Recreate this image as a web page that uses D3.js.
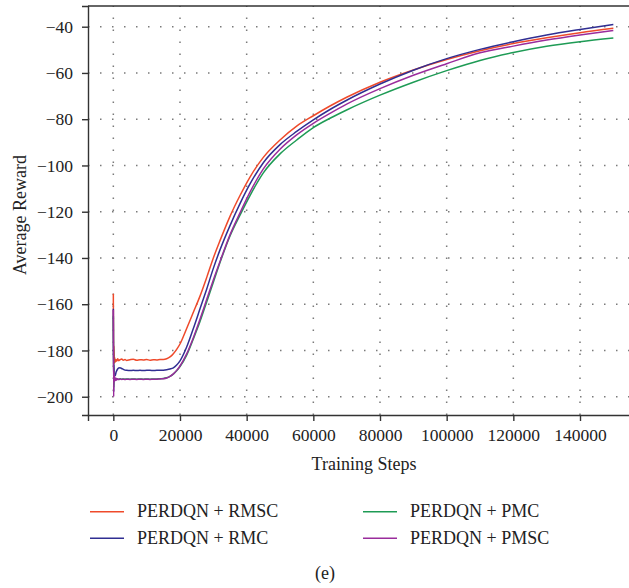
<!DOCTYPE html>
<html>
<head>
<meta charset="utf-8">
<script src="https://cdn.jsdelivr.net/npm/d3@7"></script>
<style>
  html, body { margin: 0; padding: 0; background: #fff; }
  svg { display: block; }
  text { font-family: "Liberation Serif", "DejaVu Serif", serif; fill: #222; }
</style>
</head>
<body>
<svg id="chart" width="629" height="588"></svg>
<script>
// ---------------- data ----------------
const steps = [0, 100, 200, 300, 400, 600, 800, 1000, 1300, 1600,
  2000, 2500, 3000, 3500, 4000, 5000, 6000, 7000, 8000, 9000,
  10000, 11000, 12000, 13000, 14000, 15000, 16000, 17000, 18000, 19000,
  20000, 22000, 24000, 26000, 28000, 30000, 32000, 35000, 38000, 41000,
  45000, 50000, 55000, 60000, 65000, 70000, 80000, 90000, 100000, 110000,
  120000, 130000, 140000, 150000];

const rmsc = [-155.5, -186, -178, -185.5, -183, -185, -184, -184.6, -183.6, -184.4,
  -184, -183.7, -184.2, -183.9, -184.3, -184, -183.8, -184.2, -184, -184.1,
  -183.9, -184.2, -184, -184.1, -183.9, -183.9, -183.6, -182.8, -181.4, -179.5,
  -177.2, -170.5, -163.5, -156.5, -148.5, -140, -132.5, -122, -113, -105,
  -96.5, -89, -83, -78.5, -74.3, -70.5, -64, -58.7, -54.2, -50.4,
  -47.3, -44.8, -42.6, -40.7];

const rmc = [-162, -198, -186, -191.5, -190, -190.8, -189.5, -188.8, -188, -187.6,
  -187.5, -187.8, -188.2, -188.5, -188.6, -188.7, -188.6, -188.7, -188.6, -188.7,
  -188.6, -188.6, -188.7, -188.6, -188.6, -188.5, -188.3, -188, -187.5, -186.3,
  -184.5, -178.5, -170.5, -162, -153.5, -144.5, -136.5, -126, -116.5, -108,
  -98.8, -91, -85.3, -80.3, -75.8, -71.8, -64.8, -58.8, -53.8, -49.8,
  -46.5, -43.6, -41.2, -39];

const pmc = [-165, -196, -190, -193, -192, -192.6, -192.2, -192.5, -192.3, -192.5,
  -192.2, -192.4, -192.3, -192.4, -192.3, -192.4, -192.3, -192.4, -192.3, -192.4,
  -192.3, -192.4, -192.3, -192.3, -192.2, -192.1, -191.8, -191.2, -190.2, -188.8,
  -187, -182, -175, -167.5, -159, -150.5, -142, -130.5, -121.5, -113,
  -103.2, -95, -89, -83.6, -79.6, -76, -69.6, -64, -59, -54.6,
  -51.2, -48.5, -46.5, -44.9];

const pmsc = [-162.5, -200, -189, -193.5, -191.5, -193, -192, -192.8, -192.2, -192.6,
  -192.3, -192.5, -192.4, -192.6, -192.4, -192.5, -192.4, -192.5, -192.4, -192.5,
  -192.4, -192.5, -192.4, -192.4, -192.3, -192.2, -191.9, -191.2, -190.1, -188.6,
  -186.7, -181.5, -174.5, -166.5, -158, -149.5, -141.5, -130, -120.5, -111.5,
  -101.5, -93, -86.8, -81.8, -77.5, -73.5, -66.8, -61, -56, -51.3,
  -48.4, -45.8, -43.6, -41.6];

const seriesNames = ["PERDQN + RMSC", "PERDQN + RMC", "PERDQN + PMC", "PERDQN + PMSC"];
const seriesValues = [rmsc, rmc, pmc, pmsc];
const seriesColors = ["#ef4a2b", "#302e92", "#1e9b55", "#9a2c9c"];

const xTicks = [0, 20000, 40000, 60000, 80000, 100000, 120000, 140000];
const yTicks = [-40, -60, -80, -100, -120, -140, -160, -180, -200];
const xDomain = [-7600, 158000];
const yDomain = [-207.9, -31.05];

// ---------------- layout ----------------
const svg = d3.select("#chart");
const L = 88, R = 640, T = 6, B = 415;

const x = d3.scaleLinear().domain(xDomain).range([L, R]);
const y = d3.scaleLinear().domain(yDomain).range([B, T]);

svg.append("defs").append("clipPath").attr("id", "clip")
  .append("rect").attr("x", L).attr("y", T).attr("width", R - L).attr("height", B - T);

// grid
const grid = svg.append("g").attr("stroke", "#7a7a7a").attr("stroke-width", 1.5)
  .attr("stroke-dasharray", "1.5,10.5");
grid.selectAll(".gx").data(xTicks).join("line")
  .attr("x1", d => x(d)).attr("x2", d => x(d))
  .attr("y1", B).attr("y2", T);
grid.selectAll(".gy").data(yTicks).join("line")
  .attr("x1", L).attr("x2", R)
  .attr("y1", d => y(d)).attr("y2", d => y(d));

// lines
const line = d3.line().x((d, i) => x(steps[i])).y(d => y(d)).curve(d3.curveMonotoneX);
const lines = svg.append("g").attr("clip-path", "url(#clip)");
seriesValues.forEach((vals, k) => {
  lines.append("path").datum(vals)
    .attr("fill", "none").attr("stroke", seriesColors[k])
    .attr("stroke-width", 1.5).attr("stroke-linejoin", "round")
    .attr("d", line);
});

// axes
const xAxis = svg.append("g").attr("transform", `translate(0,${B})`)
  .call(d3.axisBottom(x).tickValues(xTicks).tickFormat(d3.format("d")).tickSizeOuter(0).tickSize(6).tickPadding(8));
const yAxis = svg.append("g").attr("transform", `translate(${L},0)`)
  .call(d3.axisLeft(y).tickValues(yTicks).tickFormat(d => d < 0 ? "\u2212" + Math.abs(d) : d).tickSizeOuter(0).tickSize(6).tickPadding(9));
[xAxis, yAxis].forEach(a => {
  a.selectAll("path").attr("stroke", "#333").attr("stroke-width", 1.4);
  a.selectAll("line").attr("stroke", "#333").attr("stroke-width", 1.4);
  a.selectAll("text").attr("font-family", "Liberation Serif, serif").attr("font-size", 17.5).attr("fill", "#222");
});
// top frame
svg.append("line").attr("x1", L).attr("x2", R).attr("y1", T).attr("y2", T)
  .attr("stroke", "#333").attr("stroke-width", 1.4);

// axis titles
svg.append("text").attr("x", 364).attr("y", 470).attr("text-anchor", "middle")
  .attr("font-size", 18).text("Training Steps");
svg.append("text").attr("transform", "translate(26,215) rotate(-90)")
  .attr("text-anchor", "middle").attr("font-size", 18).text("Average Reward");

// legend
const legendPos = [[90, 511.7], [90, 538.3], [363, 511.7], [363, 538.3]];
const legend = svg.append("g");
seriesNames.forEach((name, k) => {
  const [lx, ly] = legendPos[k];
  legend.append("line").attr("x1", lx).attr("x2", lx + 34).attr("y1", ly).attr("y2", ly)
    .attr("stroke", seriesColors[k]).attr("stroke-width", 1.4);
  legend.append("text").attr("x", lx + 47).attr("y", ly + 5.5)
    .attr("font-size", 18).text(name);
});

// caption
svg.append("text").attr("x", 325).attr("y", 579).attr("text-anchor", "middle")
  .attr("font-size", 18).text("(e)");
</script>
</body>
</html>
